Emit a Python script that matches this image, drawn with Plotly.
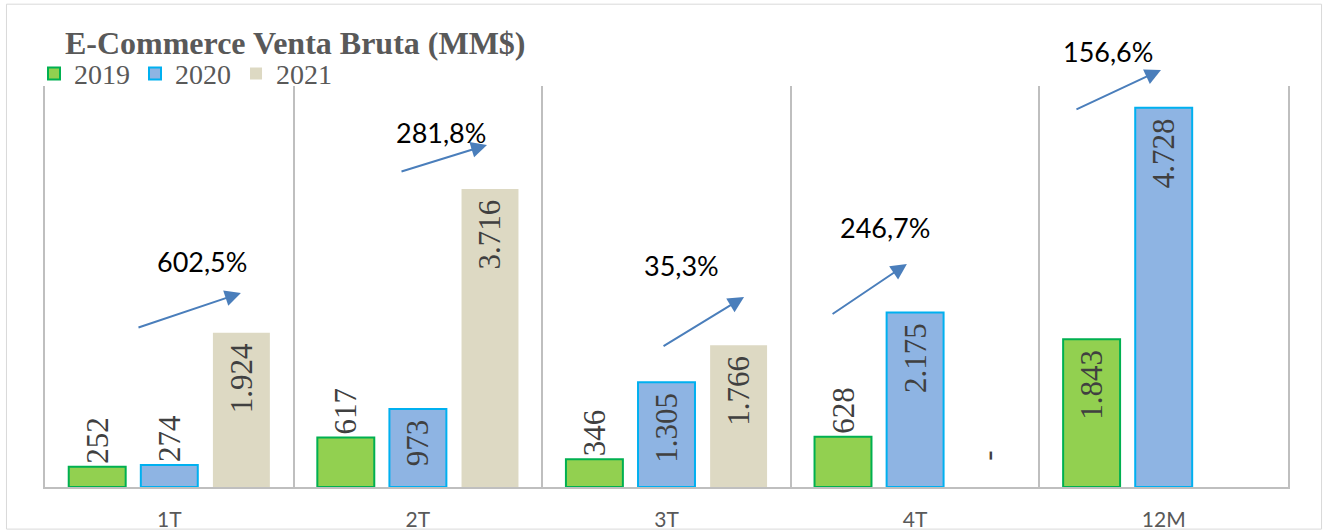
import plotly.graph_objects as go

# data
categories = ["1T", "2T", "3T", "4T", "12M"]
years = ["2019", "2020", "2021"]
sales_2019 = [252, 617, 346, 628, 1843]
sales_2020 = [274, 973, 1305, 2175, 4728]
sales_2021 = [1924, 3716, 1766, 0, None]
growth_labels = ["602,5%", "281,8%", "35,3%", "246,7%", "156,6%"]

# label placement per bar (inside for tall bars, outside for short ones)
pos_2019 = ["outside", "outside", "outside", "outside", "inside"]
pos_2020 = ["outside", "inside", "inside", "inside", "inside"]
pos_2021 = ["inside", "inside", "inside", "outside", "inside"]

# arrow layout: (tail x, tail y, head x, head y, text x, text y) in data units
arrows = [
    (-0.13, 1983, 0.288, 2419, 0.132, 2806),
    (0.928, 3928, 1.278, 4265, 1.093, 4414),
    (1.982, 1746, 2.312, 2369, 2.062, 2756),
    (2.662, 2145, 2.967, 2781, 2.879, 3230),
    (3.643, 4701, 3.989, 5200, 3.776, 5424),
]
Y_MAX = 5000

FILL = {"2019": "#92D050", "2020": "#8EB4E3", "2021": "#DDD9C3"}
EDGE = {"2019": "#00B050", "2020": "#00B0F0", "2021": "#DDD9C3"}
SERIF = "Liberation Serif"
SANS = "Lato"
GRID = "#BFBFBF"
NBSP = "\u00a0"


def fmt(v, pos):
    if v is None:
        return ""
    if v == 0:
        return NBSP * 3 + "-"
    txt = f"{v:,}".replace(",", ".")
    # a little extra room under the top edge for labels inside the bar
    return txt + NBSP if pos == "inside" else txt


fig = go.Figure()
for year, vals, pos in [("2019", sales_2019, pos_2019), ("2020", sales_2020, pos_2020), ("2021", sales_2021, pos_2021)]:
    label_font = dict(family=SERIF, size=31, color="#404040")
    fig.add_trace(
        go.Bar(
            name=year,
            x=categories,
            y=vals,
            text=[fmt(v, p) for v, p in zip(vals, pos)],
            textposition=pos,
            insidetextanchor="end",
            textangle=-90,
            constraintext="none",
            cliponaxis=False,
            textfont=label_font,
            insidetextfont=label_font,
            outsidetextfont=label_font,
            marker=dict(color=FILL[year], line=dict(color=EDGE[year], width=2 if year != "2021" else 0)),
            hoverinfo="x+y+name",
        )
    )

for (tx, ty, hx, hy, lx, ly), label in zip(arrows, growth_labels):
    fig.add_annotation(
        x=hx, y=hy, ax=tx, ay=ty, xref="x", yref="y", axref="x", ayref="y",
        text="", showarrow=True, arrowhead=2, arrowsize=1.6, arrowwidth=2, arrowcolor="#4A7EBB",
    )
    fig.add_annotation(
        x=lx, y=ly / Y_MAX, xref="x", yref="paper", xanchor="center", yanchor="middle",
        text=label, showarrow=False,
        font=dict(family=SANS, size=27, color="#000000"),
    )

# light outer frame
fig.add_shape(
    type="rect", xref="paper", yref="paper", x0=-0.031, x1=1.027, y0=-0.105, y1=1.204,
    line=dict(color="#D9D9D9", width=1), layer="below",
)

fig.update_layout(
    width=1324,
    height=531,
    margin=dict(l=45, r=36, t=86, b=44, autoexpand=False),
    paper_bgcolor="white",
    plot_bgcolor="white",
    barmode="group",
    bargap=0.13,
    bargroupgap=0.21,
    title=dict(
        text="<b>E-Commerce Venta Bruta (MM$)</b>",
        x=0.049, xanchor="left", xref="container",
        y=0.919, yanchor="middle", yref="container",
        font=dict(family=SERIF, size=32, color="#595959"),
    ),
    legend=dict(
        orientation="h", x=0.0257, xanchor="left", xref="container",
        y=0.861, yanchor="middle", yref="container",
        font=dict(family=SERIF, size=28, color="#595959"),
        itemwidth=30, bgcolor="rgba(0,0,0,0)",
    ),
    xaxis=dict(
        tickson="boundaries", showgrid=True, gridcolor=GRID, gridwidth=2,
        showline=True, linecolor=GRID, linewidth=2, ticks="",
        tickfont=dict(family=SANS, size=21, color="#595959"),
        ticklabelstandoff=13, automargin=False,
    ),
    yaxis=dict(
        range=[0, Y_MAX], showticklabels=False, ticks="", showgrid=False, zeroline=False,
        showline=True, mirror=True, linecolor=GRID, linewidth=2, automargin=False,
    ),
    showlegend=True,
)

fig.write_html(
    "out.html",
    config={"displayModeBar": False},
    post_script="document.body.style.margin = '0';",
)
